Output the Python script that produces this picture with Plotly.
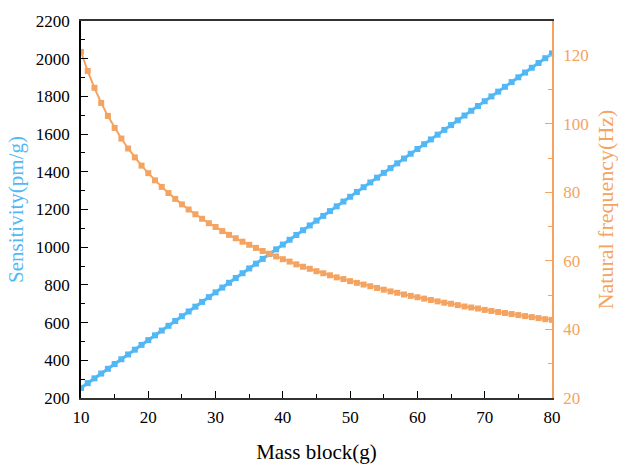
import plotly.graph_objects as go

# Mass of the proof block (g)
mass = list(range(10, 81))

# Sensitivity (pm/g) for each mass
sensitivity = [
    253.5, 278.9, 304.2, 329.6, 354.9, 380.3, 405.6, 431.0, 456.3, 481.7,
    507.0, 532.4, 557.7, 583.1, 608.4, 633.8, 659.1, 684.5, 709.8, 735.2,
    760.5, 785.9, 811.2, 836.6, 861.9, 887.3, 912.6, 938.0, 963.3, 988.7,
    1014.0, 1039.4, 1064.7, 1090.1, 1115.4, 1140.8, 1166.1, 1191.5, 1216.8, 1242.2,
    1267.5, 1292.9, 1318.2, 1343.6, 1368.9, 1394.3, 1419.6, 1445.0, 1470.3, 1495.7,
    1521.0, 1546.4, 1571.7, 1597.1, 1622.4, 1647.8, 1673.1, 1698.5, 1723.8, 1749.2,
    1774.5, 1799.9, 1825.2, 1850.6, 1875.9, 1901.3, 1926.6, 1952.0, 1977.3, 2002.7,
    2028.0,
]

# Natural frequency (Hz) for each mass
frequency = [
    121.0, 115.4, 110.5, 106.1, 102.3, 98.8, 95.7, 92.8, 90.2, 87.8,
    85.6, 83.5, 81.6, 79.8, 78.1, 76.5, 75.0, 73.6, 72.3, 71.0,
    69.9, 68.7, 67.6, 66.6, 65.6, 64.7, 63.8, 62.9, 62.1, 61.3,
    60.5, 59.8, 59.0, 58.3, 57.7, 57.0, 56.4, 55.8, 55.2, 54.7,
    54.1, 53.6, 53.1, 52.6, 52.1, 51.6, 51.1, 50.7, 50.2, 49.8,
    49.4, 49.0, 48.6, 48.2, 47.8, 47.5, 47.1, 46.7, 46.4, 46.1,
    45.7, 45.4, 45.1, 44.8, 44.5, 44.2, 43.9, 43.6, 43.3, 43.0,
    42.8,
]

BLUE = "#52b8f5"
ORANGE = "#f4a460"
FONT = "Liberation Serif, Times New Roman, serif"

fig = go.Figure()

fig.add_trace(go.Scatter(
    x=mass, y=sensitivity, mode="lines+markers", name="Sensitivity",
    line=dict(color=BLUE, width=3),
    marker=dict(symbol="square", size=6, color=BLUE),
    yaxis="y",
))

fig.add_trace(go.Scatter(
    x=mass, y=frequency, mode="lines+markers", name="Natural frequency",
    line=dict(color=ORANGE, width=2),
    marker=dict(symbol="square", size=6, color=ORANGE),
    yaxis="y2",
))

fig.update_layout(
    width=626, height=472,
    margin=dict(l=81, r=59, t=20, b=60),
    plot_bgcolor="white", paper_bgcolor="white",
    showlegend=False,
    font=dict(family=FONT, size=16, color="black"),
    xaxis=dict(
        range=[10, 80], tickvals=[10, 20, 30, 40, 50, 60, 70, 80],
        showgrid=False, zeroline=False,
        showline=True, linecolor="#333333", linewidth=1.5, mirror=True,
        ticks="inside", ticklen=7, tickwidth=1.2, tickcolor="black",
        minor=dict(dtick=5, ticks="inside", ticklen=4, tickwidth=1.2, tickcolor="black"),
        tickfont=dict(family=FONT, size=17, color="black"),
        ticklabelstandoff=3,
        title=dict(text="Mass block(g)", font=dict(family=FONT, size=21, color="black"), standoff=18),
    ),
    yaxis=dict(
        range=[200, 2200], dtick=200, tick0=200,
        showgrid=False, zeroline=False,
        showline=True, linecolor="black", linewidth=1.5,
        ticks="inside", ticklen=7, tickwidth=1.2, tickcolor="black",
        minor=dict(dtick=100, ticks="inside", ticklen=4, tickwidth=1.2, tickcolor="black"),
        tickfont=dict(family=FONT, size=17, color="black"),
        ticklabelstandoff=6,
        title=dict(text="Sensitivity(pm/g)", font=dict(family=FONT, size=21, color=BLUE), standoff=6),
    ),
    yaxis2=dict(
        overlaying="y", side="right", anchor="x",
        range=[20, 130], tickvals=[20, 40, 60, 80, 100, 120],
        showgrid=False, zeroline=False,
        showline=True, linecolor=ORANGE, linewidth=1.5,
        ticks="inside", ticklen=7, tickwidth=1.2, tickcolor=ORANGE,
        minor=dict(dtick=10, tick0=20, ticks="inside", ticklen=4, tickwidth=1.2, tickcolor=ORANGE),
        tickfont=dict(family=FONT, size=17, color=ORANGE),
        ticklabelstandoff=6,
        title=dict(text="Natural frequency(Hz)", font=dict(family=FONT, size=22, color=ORANGE), standoff=10),
    ),
)

fig.write_html("out.html")
